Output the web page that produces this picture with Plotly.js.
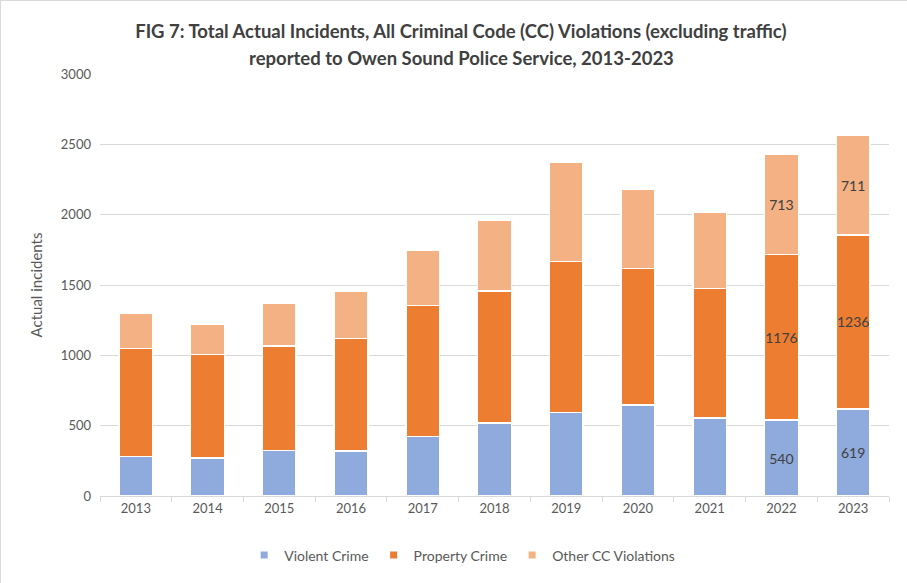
<!DOCTYPE html>
<html>
<head>
<meta charset="utf-8">
<script src="https://cdn.plot.ly/plotly-3.0.1.min.js"></script>
<style>
  html, body { margin: 0; padding: 0; background: #fff; }
  #chart { width: 907px; height: 583px; box-sizing: border-box; border: 1px solid #d9d9d9; }
</style>
</head>
<body>
<div id="chart"></div>
<script>
const years = ['2013','2014','2015','2016','2017','2018','2019','2020','2021','2022','2023'];
const violent  = [280, 270, 325, 320, 424, 518, 593, 647, 553, 540, 619];
const property = [767, 735, 741, 798, 929, 941, 1075, 970, 922, 1176, 1236];
const otherCC  = [254, 219, 301, 341, 395, 501, 704, 564, 542, 713, 711];
const seriesNames = ['Violent Crime', 'Property Crime', 'Other CC Violations'];
const seriesColors = ['#8FAADC', '#ED7D31', '#F4B183'];
const labeledYears = ['2022', '2023'];

function labels(vals) {
  return vals.map((v, i) => labeledYears.includes(years[i]) ? String(v) : '');
}

const seriesValues = [violent, property, otherCC];

const traces = seriesValues.map((vals, k) => ({
  type: 'bar',
  x: years,
  y: vals,
  name: seriesNames[k],
  text: labels(vals),
  textposition: 'inside',
  insidetextanchor: 'middle',
  textangle: 0,
  constraintext: 'none',
  cliponaxis: false,
  textfont: { family: 'Lato, sans-serif', size: 14, color: '#404040' },
  marker: { color: seriesColors[k], line: { color: '#ffffff', width: 1.5 } },
  showlegend: false,
  hoverinfo: 'skip'
}));

// legend-only entries with small square swatches (like the reference)
seriesNames.forEach((n, k) => {
  traces.push({
    type: 'scatter', mode: 'markers',
    x: [null], y: [null],
    name: n,
    marker: { symbol: 'square', size: 7, color: seriesColors[k] },
    showlegend: true,
    hoverinfo: 'skip'
  });
});

const layout = {
  width: 907, height: 583,
  barmode: 'stack',
  bargap: 0.53,
  margin: { l: 99, r: 19, t: 73, b: 85 },
  paper_bgcolor: '#ffffff',
  plot_bgcolor: '#ffffff',
  font: { family: 'Lato, sans-serif', color: '#595959' },
  title: {
    text: '<b>FIG 7: Total Actual Incidents, All Criminal Code (CC) Violations (excluding traffic)</b>',
    font: { family: 'Lato, sans-serif', size: 18.5, color: '#404040' },
    x: 0.507, xanchor: 'center', xref: 'container',
    y: 1 - 31 / 583, yanchor: 'middle', yref: 'container'
  },
  annotations: [{
    text: '<b>reported to Owen Sound Police Service, 2013-2023</b>',
    font: { family: 'Lato, sans-serif', size: 18.5, color: '#404040' },
    xref: 'paper', yref: 'paper',
    x: (460 - 99) / 789, xanchor: 'center',
    y: (498 - 57) / 425, yanchor: 'middle',
    showarrow: false
  }],
  xaxis: {
    type: 'category',
    tickfont: { size: 13, color: '#595959' },
    showline: true, linecolor: '#d9d9d9', linewidth: 1,
    ticks: 'outside', tickson: 'boundaries', ticklen: 5, tickcolor: '#d9d9d9',
    showgrid: false
  },
  yaxis: {
    range: [0, 3000],
    dtick: 500,
    tickfont: { size: 13, color: '#595959' },
    gridcolor: '#d9d9d9', gridwidth: 1,
    zeroline: false,
    showline: false,
    ticks: '',
    ticklabelstandoff: 8,
    title: { text: 'Actual incidents', font: { size: 15, color: '#595959' }, standoff: 14 }
  },
  legend: {
    orientation: 'h',
    x: 0.459, xanchor: 'center',
    y: -0.141, yanchor: 'middle',
    font: { size: 14, color: '#595959' },
    traceorder: 'normal',
    itemwidth: 30
  },
  showlegend: true
};

Plotly.newPlot('chart', traces, layout, { displayModeBar: false, staticPlot: true });
</script>
</body>
</html>
